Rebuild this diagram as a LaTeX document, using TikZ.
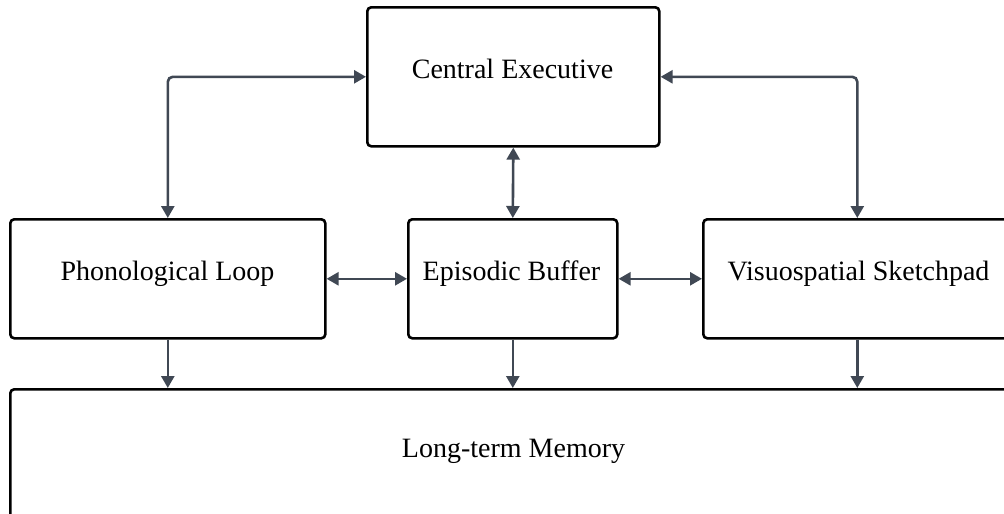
\documentclass[tikz,border=0pt]{standalone}
\usepackage{fontspec}
\setmainfont{Liberation Serif}
\usetikzlibrary{arrows.meta}
\definecolor{linkgray}{RGB}{64,72,84}
\tikzset{
  box/.style={draw=black, line width=2.6pt, rounded corners=4pt, fill=white,
    inner sep=0pt, anchor=north west},
  lbl/.style={anchor=base, inner sep=0pt, font=\fontsize{28}{32}\selectfont},
  tip/.style={Triangle[length=12pt,width=13pt]},
  link/.style={draw=linkgray, line width=2.6pt, rounded corners=5pt,
    -{Triangle[length=12pt,width=13pt]}},
  bilink/.style={link, {Triangle[length=12pt,width=13pt]}-{Triangle[length=12pt,width=13pt]}},
}
\begin{document}
\begin{tikzpicture}[x=1pt, y=-1pt]
  \useasboundingbox (0,0) rectangle (1004,514);
  \clip (0,0) rectangle (1004,514);
  \fill[white] (0,0) rectangle (1004,514);

  % components of the model
  \node[box, minimum width=292pt, minimum height=139pt] (ce) at (366,6) {};
  \node[box, minimum width=315pt, minimum height=119pt] (pl) at (9,218) {};
  \node[box, minimum width=209pt, minimum height=119pt] (eb) at (407,218) {};
  \node[box, minimum width=308pt, minimum height=119pt] (vs) at (702,218) {};
  \node[box, minimum width=1009pt, minimum height=150pt] (ltm) at (9,388) {};

  % labels
  \node[lbl] (ce-t) at (512.5,78) {Central Executive};
  \node[lbl] (pl-t) at (167.5,280) {Phonological Loop};
  \node[lbl] (eb-t) at (511.5,280) {Episodic Buffer};
  \node[lbl] (vs-t) at (858.5,280) {Visuospatial Sketchpad};
  \node[lbl] (ltm-t) at (513.5,457) {Long-term Memory};

  % executive control links
  \draw[bilink] (ce.west) -| (pl.north);
  \draw[bilink] (ce.east) -| (vs.north);
  \draw[bilink] (ce.south) -- (eb.north);

  % buffer links
  \draw[bilink] (pl.east) -- (eb.west);
  \draw[bilink] (eb.east) -- (vs.west);

  % transfer to long-term memory
  \draw[link] (pl.south) -- (pl.south |- ltm.north);
  \draw[link] (eb.south) -- (eb.south |- ltm.north);
  \draw[link] (vs.south) -- (vs.south |- ltm.north);
\end{tikzpicture}
\end{document}
